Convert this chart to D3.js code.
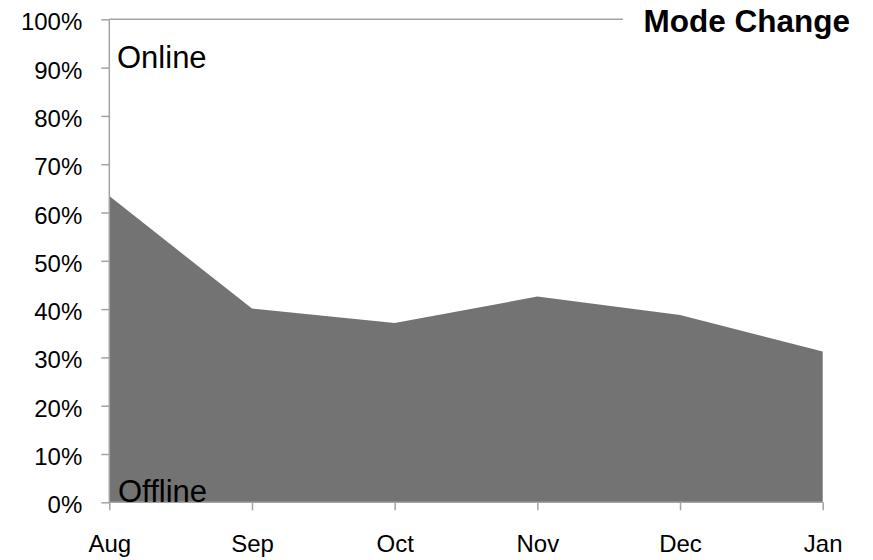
<!DOCTYPE html>
<html>
<head>
<meta charset="utf-8">
<script src="https://cdn.jsdelivr.net/npm/d3@7/dist/d3.min.js"></script>
<style>
  html, body { margin: 0; padding: 0; background: #fff; }
  svg { display: block; font-family: "Liberation Sans", Arial, sans-serif; }
</style>
</head>
<body>
<svg id="chart" width="873" height="560"></svg>
<script>
// Share of offline mode by month (remainder is online)
const months = ["Aug", "Sep", "Oct", "Nov", "Dec", "Jan"];
const offlineShare = [0.634, 0.401, 0.371, 0.426, 0.388, 0.312];
const yTicks = [0, 0.1, 0.2, 0.3, 0.4, 0.5, 0.6, 0.7, 0.8, 0.9, 1.0];
const chartTitle = "Mode Change";
const topLabel = "Online";
const bottomLabel = "Offline";

const svg = d3.select("#chart");
const plotLeft = 109.3, plotRight = 822.7, plotTop = 19.3, plotBottom = 502.3;
const axisColor = "#a3a3a3";

const x = d3.scalePoint().domain(months).range([plotLeft, plotRight]);
const y = d3.scaleLinear().domain([0, 1]).range([plotBottom, plotTop]);

// filled area for the offline share
const area = d3.area()
  .x((d, i) => x(months[i]))
  .y0(y(0))
  .y1(d => y(d));

svg.append("path")
  .datum(offlineShare)
  .attr("d", area)
  .attr("fill", "#737373");

// plot frame top edge, stopping short of the title
svg.append("line")
  .attr("x1", plotLeft).attr("x2", 623)
  .attr("y1", y(1)).attr("y2", y(1))
  .attr("stroke", axisColor).attr("stroke-width", 1.5);

// y axis
const yAxis = svg.append("g")
  .attr("transform", `translate(${plotLeft},0)`)
  .call(d3.axisLeft(y).tickValues(yTicks).tickSize(8).tickPadding(19)
    .tickFormat(d3.format(".0%")));
yAxis.select(".domain").attr("stroke", axisColor).attr("stroke-width", 1.5)
  .attr("d", `M0,${plotTop}V${plotBottom}`);
yAxis.selectAll(".tick line").attr("stroke", axisColor).attr("stroke-width", 1.5);
yAxis.selectAll(".tick text")
  .attr("font-size", 24).attr("fill", "#000")
  .attr("dy", null).attr("y", 10.5)
  .style("font-family", "'Liberation Sans', Arial, sans-serif");

// x axis
const xAxis = svg.append("g")
  .attr("transform", `translate(0,${plotBottom})`)
  .call(d3.axisBottom(x).tickSize(8).tickPadding(0));
xAxis.select(".domain").attr("stroke", axisColor).attr("stroke-width", 1.5)
  .attr("d", `M${plotLeft},0H${plotRight}`);
xAxis.selectAll(".tick line").attr("stroke", axisColor).attr("stroke-width", 1.5);
xAxis.selectAll(".tick text")
  .attr("font-size", 24).attr("fill", "#000")
  .attr("dy", null).attr("y", 50)
  .style("font-family", "'Liberation Sans', Arial, sans-serif");

// mode labels
svg.append("text")
  .attr("x", 117).attr("y", 68)
  .attr("font-size", 31).attr("fill", "#000")
  .text(topLabel);
svg.append("text")
  .attr("x", 118).attr("y", 502)
  .attr("font-size", 31).attr("fill", "#000")
  .text(bottomLabel);

// title
svg.append("text")
  .attr("x", 850).attr("y", 32)
  .attr("text-anchor", "end")
  .attr("font-size", 31.5).attr("font-weight", "bold").attr("fill", "#000")
  .text(chartTitle);
</script>
</body>
</html>
